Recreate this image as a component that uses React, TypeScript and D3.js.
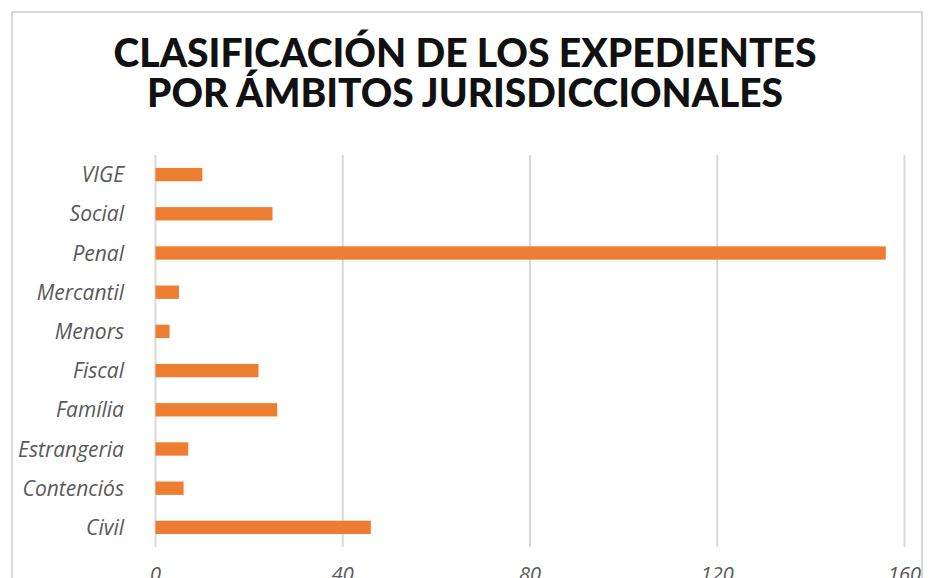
import React from "react";
import * as d3 from "d3";

const categories = ["VIGE", "Social", "Penal", "Mercantil", "Menors", "Fiscal", "Família", "Estrangeria", "Contenciós", "Civil"];
const values = [10, 25, 156, 5, 3, 22, 26, 7, 6, 46];
const xTicks = [0, 40, 80, 120, 160];
const titleLines = ["CLASIFICACIÓN DE LOS EXPEDIENTES", "POR ÁMBITOS JURISDICCIONALES"];

const W = 935;
const H = 578;

export default function App() {
  const x = d3.scaleLinear().domain([0, 160]).range([155.5, 904.5]);
  const y = d3.scaleBand<string>().domain(categories).range([155, 547]).paddingInner(0.66).paddingOuter(0.33);
  const bh = y.bandwidth();

  return (
    <div style={{ position: "absolute", left: 0, top: 0 }}>
      <svg width={W} height={H} style={{ display: "block", background: "#fff" }}>
        <rect x={12} y={12} width={910} height={H + 20} fill="#fff" stroke="#d9d9d9" strokeWidth={2} />
        <text x={465} y={67} textAnchor="middle" fontFamily="Lato" fontWeight={900} fontSize={40} fill="#111"
          textLength={703} lengthAdjust="spacingAndGlyphs">{titleLines[0]}</text>
        <text x={465} y={107} textAnchor="middle" fontFamily="Lato" fontWeight={900} fontSize={40} fill="#111"
          textLength={636} lengthAdjust="spacingAndGlyphs">{titleLines[1]}</text>
        {xTicks.map((t) => (
          <line key={"g" + t} x1={x(t)} x2={x(t)} y1={155} y2={547} stroke="#d9d9d9" strokeWidth={2} />
        ))}
        {categories.map((c, i) => (
          <rect key={c} x={x(0)} y={y(c)!} width={x(values[i]) - x(0)} height={bh} fill="#ED7D31" />
        ))}
        {categories.map((c) => (
          <text key={"l" + c} x={124} y={y(c)! + bh / 2} dy="0.36em" textAnchor="end" fontFamily="Open Sans"
            fontStyle="italic" fontSize={21} fill="#595959">{c}</text>
        ))}
        {xTicks.map((t) => (
          <text key={"t" + t} x={x(t)} y={581} textAnchor="middle" fontFamily="Open Sans" fontStyle="italic"
            fontSize={20} fill="#595959">{t}</text>
        ))}
      </svg>
    </div>
  );
}
